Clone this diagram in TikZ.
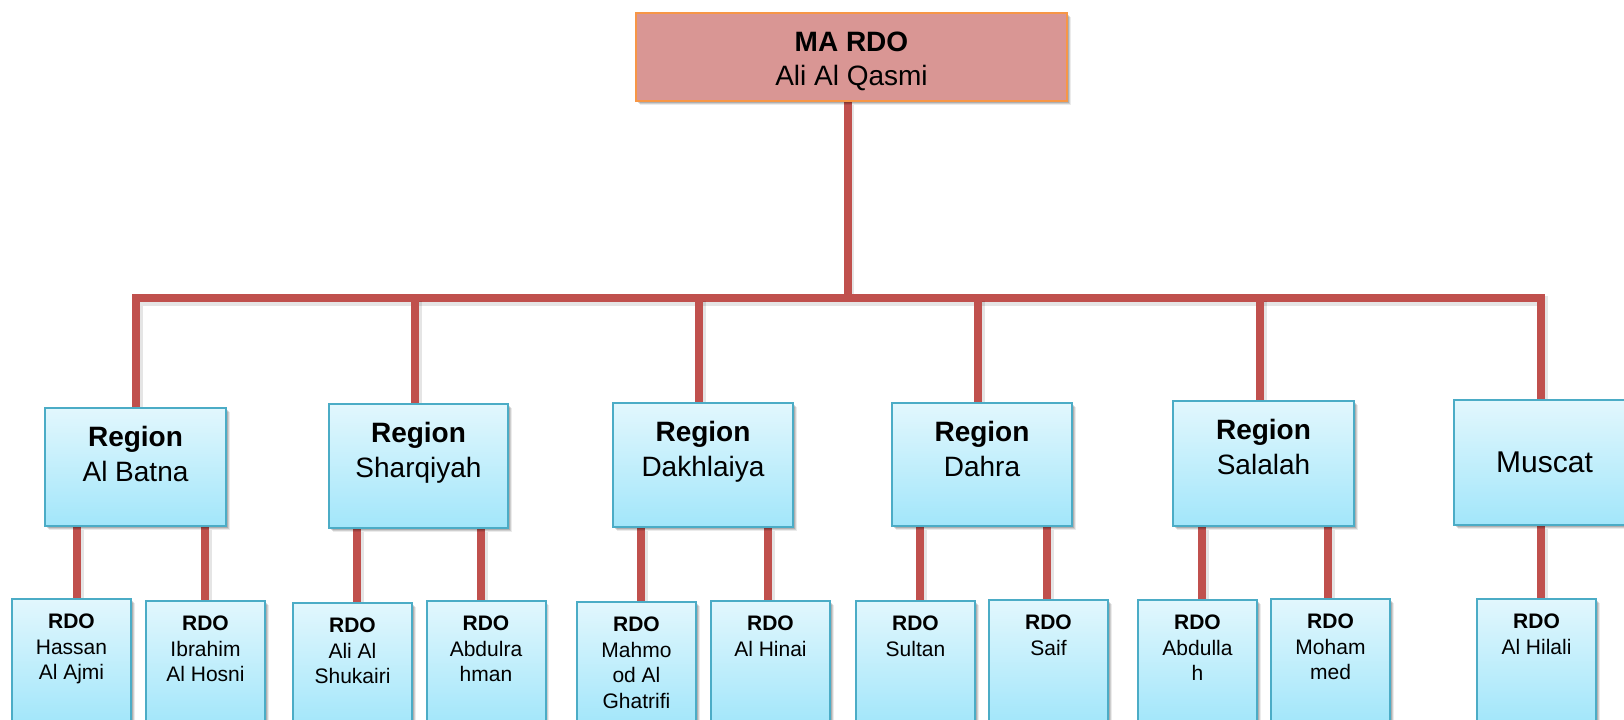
\documentclass[tikz,border=0pt]{standalone}
\usepackage{fontspec}
\setmainfont{Liberation Sans}
\usetikzlibrary{shadows}
\definecolor{connred}{RGB}{192,80,77}
\definecolor{boxblue}{RGB}{75,172,198}
\definecolor{boxtop}{RGB}{226,247,253}
\definecolor{boxbot}{RGB}{162,230,250}
\definecolor{mafill}{RGB}{217,150,148}
\definecolor{maborder}{RGB}{247,150,70}
\pgfdeclarelayer{background}
\pgfsetlayers{background,main}
\tikzset{
  softshadow/.style={
    drop shadow={shadow xshift=1.8pt, shadow yshift=-2.2pt, opacity=0.08, fill=black},
    drop shadow={shadow xshift=1.3pt, shadow yshift=-1.6pt, opacity=0.12, fill=black},
    drop shadow={shadow xshift=0.8pt, shadow yshift=-1.0pt, opacity=0.15, fill=black}},
  box/.style={rectangle, draw=boxblue, line width=1pt, top color=boxtop, bottom color=boxbot,
    inner sep=0pt, softshadow},
  mabox/.style={rectangle, draw=maborder, line width=1pt, fill=mafill, inner sep=0pt,
    minimum width=215.5pt, minimum height=44pt, softshadow},
  leafbox/.style={box, anchor=north, minimum width=59.5pt, minimum height=62pt},
  regtext/.style={anchor=north, align=center, inner sep=0pt, font=\fontsize{14}{17.5}\selectfont},
  matext/.style={anchor=north, align=center, inner sep=0pt, font=\fontsize{14}{17}\selectfont},
  leaftext/.style={anchor=north, align=center, inner sep=0pt, font=\fontsize{10.5}{12.75}\selectfont},
  conn/.style={draw=connred, line width=4pt, line join=miter,
    preaction={draw=black, opacity=0.10, line width=5pt, transform canvas={xshift=0.9pt, yshift=-1.4pt}}}
}
\newcommand\leafconn[3]{\draw[conn] ([xshift=#3]#2.north) -- ([xshift=#3]#2.north |- #1.south);}
\begin{document}
\begin{tikzpicture}[x=0.5pt, y=-0.5pt]
\useasboundingbox (0,0) rectangle (1624,719);
\coordinate (bar) at (0,298);

% top box
\node[mabox] (ma) at (851.5,57) {};
\node[matext] (mat) at ([yshift=-9.8pt]ma.north) {\textbf{MA RDO}\\Ali Al Qasmi};

% region boxes
\node[box, minimum width=90.5pt, minimum height=59pt] (batna) at (135.5,467) {};
\node[regtext] (batnat) at ([yshift=-9.3pt]batna.north) {\textbf{Region}\\Al Batna};
\node[box, minimum width=89.5pt, minimum height=62pt] (sharq) at (418.5,466) {};
\node[regtext] (sharqt) at ([yshift=-9.3pt]sharq.north) {\textbf{Region}\\Sharqiyah};
\node[box, minimum width=90pt, minimum height=62pt] (dakh) at (703,465) {};
\node[regtext] (dakht) at ([yshift=-9.3pt]dakh.north) {\textbf{Region}\\Dakhlaiya};
\node[box, minimum width=90pt, minimum height=61.5pt] (dahra) at (982,464.5) {};
\node[regtext] (dahrat) at ([yshift=-9.3pt]dahra.north) {\textbf{Region}\\Dahra};
\node[box, minimum width=90.5pt, minimum height=62.5pt] (salalah) at (1263.5,463.5) {};
\node[regtext] (salalaht) at ([yshift=-9.3pt]salalah.north) {\textbf{Region}\\Salalah};
\node[box, minimum width=90.5pt, minimum height=62.5pt, font=\fontsize{15}{18}\selectfont] (muscat) at (1544.5,462.5) {Muscat};

% leaf boxes
\node[leafbox] (hassan) at (71.5,598) {};
\node[leaftext] (hassant) at ([yshift=-7.85pt]hassan.north) {\textbf{RDO}\\Hassan\\Al Ajmi};
\node[leafbox] (ibrahim) at (205.5,600) {};
\node[leaftext] (ibrahimt) at ([yshift=-7.85pt]ibrahim.north) {\textbf{RDO}\\Ibrahim\\Al Hosni};
\node[leafbox] (shuk) at (352.5,602) {};
\node[leaftext] (shukt) at ([yshift=-7.85pt]shuk.north) {\textbf{RDO}\\Ali Al\\Shukairi};
\node[leafbox] (abdulr) at (486,600) {};
\node[leaftext] (abdulrt) at ([yshift=-7.85pt]abdulr.north) {\textbf{RDO}\\Abdulra\\hman};
\node[leafbox] (mahm) at (636.5,601) {};
\node[leaftext] (mahmt) at ([yshift=-7.85pt]mahm.north) {\textbf{RDO}\\Mahmo\\od Al\\Ghatrifi};
\node[leafbox] (hinai) at (770.5,600) {};
\node[leaftext] (hinait) at ([yshift=-7.85pt]hinai.north) {\textbf{RDO}\\Al Hinai};
\node[leafbox] (sultan) at (915.5,600) {};
\node[leaftext] (sultant) at ([yshift=-7.85pt]sultan.north) {\textbf{RDO}\\Sultan};
\node[leafbox] (saif) at (1048.5,599) {};
\node[leaftext] (saift) at ([yshift=-7.85pt]saif.north) {\textbf{RDO}\\Saif};
\node[leafbox] (abdullah) at (1197.5,599) {};
\node[leaftext] (abdullaht) at ([yshift=-7.85pt]abdullah.north) {\textbf{RDO}\\Abdulla\\h};
\node[leafbox] (moham) at (1330.5,598) {};
\node[leaftext] (mohamt) at ([yshift=-7.85pt]moham.north) {\textbf{RDO}\\Moham\\med};
\node[leafbox] (hilali) at (1536.5,598) {};
\node[leaftext] (hilalit) at ([yshift=-7.85pt]hilali.north) {\textbf{RDO}\\Al Hilali};

% connectors
\begin{pgfonlayer}{background}
\draw[conn] ([xshift=-2pt]ma.south) -- ([xshift=-2pt]ma.south |- bar);
\draw[conn] ([xshift=0.25pt]batna.north) -- ([xshift=0.25pt]batna.north |- bar)
  -- ([xshift=-1.75pt]muscat.north |- bar) -- ([xshift=-1.75pt]muscat.north);
\draw[conn] ([xshift=-1.75pt]sharq.north) -- ([xshift=-1.75pt]sharq.north |- bar);
\draw[conn] ([xshift=-2pt]dakh.north) -- ([xshift=-2pt]dakh.north |- bar);
\draw[conn] ([xshift=-2pt]dahra.north) -- ([xshift=-2pt]dahra.north |- bar);
\draw[conn] ([xshift=-1.75pt]salalah.north) -- ([xshift=-1.75pt]salalah.north |- bar);
\leafconn{batna}{hassan}{2.75pt}
\leafconn{batna}{ibrahim}{-0.25pt}
\leafconn{sharq}{shuk}{2.25pt}
\leafconn{sharq}{abdulr}{-2.5pt}
\leafconn{dakh}{mahm}{2.25pt}
\leafconn{dakh}{hinai}{-1.25pt}
\leafconn{dahra}{sultan}{2.25pt}
\leafconn{dahra}{saif}{-0.75pt}
\leafconn{salalah}{abdullah}{2.25pt}
\leafconn{salalah}{moham}{-1.25pt}
\leafconn{muscat}{hilali}{2.25pt}
\end{pgfonlayer}
\end{tikzpicture}
\end{document}
